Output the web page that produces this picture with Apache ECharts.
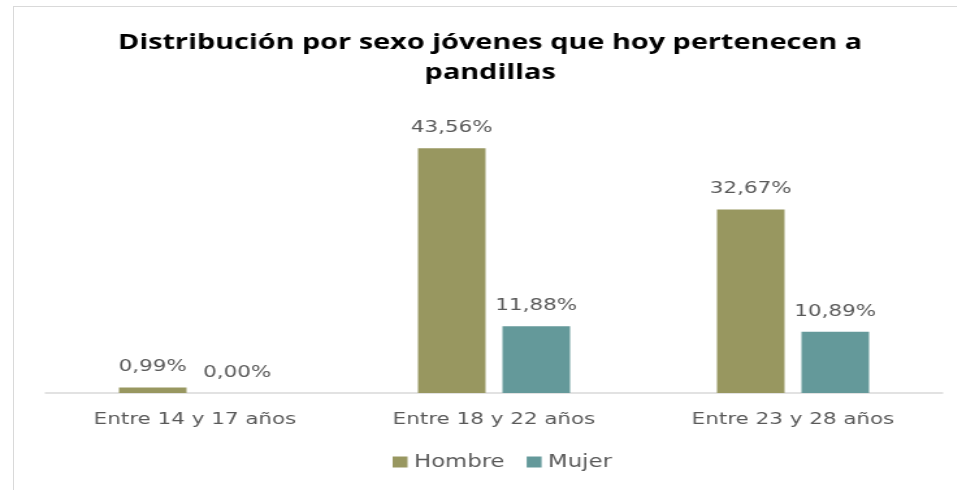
<!DOCTYPE html>
<html><head><meta charset="utf-8">
<script src="https://cdn.jsdelivr.net/npm/echarts@6/dist/echarts.min.js"></script>
<style>html,body{margin:0;padding:0;background:#fff;overflow:hidden}
#c{width:736px;height:490px;transform:scaleX(1.3);transform-origin:0 0;position:absolute;left:0;top:0}
#frame{position:absolute;left:13px;top:6px;width:944px;height:484px;border-left:1.5px solid #d9d9d9;border-top:1.5px solid #d9d9d9;pointer-events:none}</style>
</head><body><div id="c"></div><div id="frame"></div>
<script>
const categories = ['Entre 14 y 17 años', 'Entre 18 y 22 años', 'Entre 23 y 28 años'];
const hombre = [0.99, 43.56, 32.67];
const mujer = [0.00, 11.88, 10.89];
const titleText = 'Distribución por sexo jóvenes que hoy pertenecen a\npandillas';
const fmt = p => p.value.toFixed(2).replace('.', ',') + '%';
const chart = echarts.init(document.getElementById('c'));
const lbl = {show:true, position:'top', formatter:fmt, color:'#595959', fontFamily:"'DejaVu Sans'", fontSize:16.5, distance:12};
chart.setOption({
  animation:false,
  title:{text:titleText, left:372, textAlign:'center', top:23, textStyle:{fontFamily:"'Open Sans'", fontWeight:'bold', fontSize:22.2, color:'#000', lineHeight:30}},
  legend:{bottom:14, left:297, itemWidth:11.5, itemHeight:11, itemGap:17, icon:'rect', textStyle:{fontFamily:"'DejaVu Sans'", fontSize:17.5, color:'#595959'}},
  grid:{left:35, right:11, top:112, bottom:97},
  xAxis:{type:'category', data:categories, axisTick:{show:false}, axisLine:{lineStyle:{color:'#d9d9d9', width:1.5}},
    axisLabel:{fontFamily:"'DejaVu Sans'", fontSize:16.5, color:'#595959', margin:18}},
  yAxis:{type:'value', min:0, max:50, show:false, splitLine:{show:false}},
  series:[
    {name:'Hombre', type:'bar', data:hombre, barWidth:52, barGap:'25%', itemStyle:{color:'#989760'}, label:lbl},
    {name:'Mujer', type:'bar', data:mujer, barWidth:52, itemStyle:{color:'#64999a'}, label:lbl}
  ]
});
</script></body></html>
